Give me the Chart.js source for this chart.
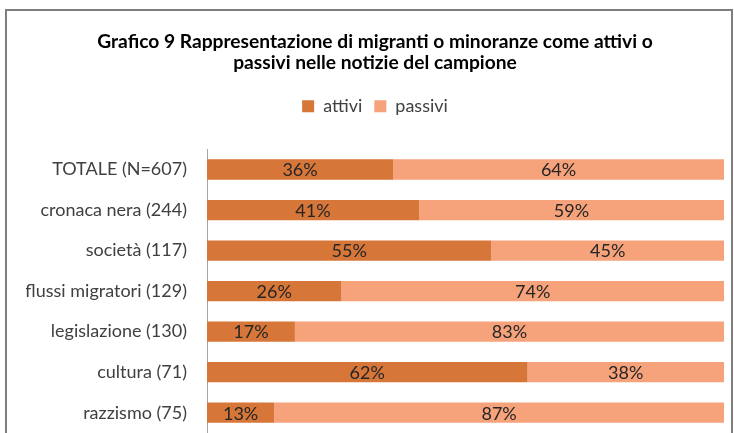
<!DOCTYPE html>
<html>
<head>
<meta charset="utf-8">
<script src="https://cdn.jsdelivr.net/npm/chart.js@4"></script>
<style>
  body { margin: 0; background: #fff; }
  .wrap { position: relative; width: 734px; height: 433px; overflow: hidden; }
  .cornice { position: absolute; left: 5px; top: 9px; width: 728px; height: 440px; border: 2px solid #7f7f7f; box-sizing: border-box; }
  canvas { position: absolute; left: 0; top: 0; }
</style>
</head>
<body>
<div class="wrap">
  <div class="cornice"></div>
  <canvas id="grafico" width="734" height="433"></canvas>
</div>
<script>
/* dati del grafico */
const categorie = [
  "TOTALE (N=607)",
  "cronaca nera (244)",
  "società (117)",
  "flussi migratori (129)",
  "legislazione (130)",
  "cultura (71)",
  "razzismo (75)",
];
const attivi = [36, 41, 55, 26, 17, 62, 13];
const passivi = [64, 59, 45, 74, 83, 38, 87];

const font = "Lato, 'Open Sans', sans-serif";

// etichette percentuali al centro dei segmenti
const etichette = {
  id: "etichette",
  afterDatasetsDraw(chart) {
    const ctx = chart.ctx;
    ctx.save();
    ctx.font = "18px " + font;
    ctx.fillStyle = "#262626";
    ctx.textAlign = "center";
    ctx.textBaseline = "middle";
    chart.data.datasets.forEach((ds, i) => {
      chart.getDatasetMeta(i).data.forEach((bar, j) => {
        const centro = bar.getCenterPoint();
        ctx.fillText(ds.data[j] + "%", centro.x, centro.y + 1);
      });
    });
    ctx.restore();
  },
};

new Chart(document.getElementById("grafico"), {
  type: "bar",
  data: {
    labels: categorie,
    datasets: [
      { label: "attivi", data: attivi, backgroundColor: "#D67638", barPercentage: 0.5, categoryPercentage: 1 },
      { label: "passivi", data: passivi, backgroundColor: "#F6A27B", barPercentage: 0.5, categoryPercentage: 1 },
    ],
  },
  options: {
    indexAxis: "y",
    responsive: false,
    animation: false,
    layout: { padding: { left: 26, right: 10, top: 0, bottom: 0 } },
    scales: {
      // asse x nascosto in alto, usato solo come spazio sotto la legenda
      x: {
        stacked: true,
        min: 0,
        max: 100,
        position: "top",
        grid: { display: false, drawTicks: false },
        border: { display: false },
        ticks: { display: false },
        afterFit: (s) => { s.height = 24; },
      },
      y: {
        stacked: true,
        grid: { display: false, drawTicks: false },
        border: { display: true, color: "#A6A6A6", width: 1 },
        ticks: { padding: 20, color: "#404040", font: { family: font, size: 18 } },
        afterFit: (s) => {
          s.width = 181;
          s.paddingTop = 0;
          s.paddingBottom = 0;
        },
      },
    },
    plugins: {
      title: {
        display: true,
        text: [
          "Grafico 9 Rappresentazione di migranti o minoranze come attivi o",
          "passivi nelle notizie del campione",
        ],
        color: "#000",
        font: { family: font, size: 19.2, weight: "bold", lineHeight: 1.1 },
        padding: { top: 31, bottom: 12 },
      },
      legend: {
        position: "top",
        labels: {
          boxWidth: 12,
          boxHeight: 12,
          padding: 12,
          color: "#404040",
          font: { family: font, size: 18 },
        },
      },
      tooltip: { enabled: false },
    },
  },
  plugins: [etichette],
});
</script>
</body>
</html>
